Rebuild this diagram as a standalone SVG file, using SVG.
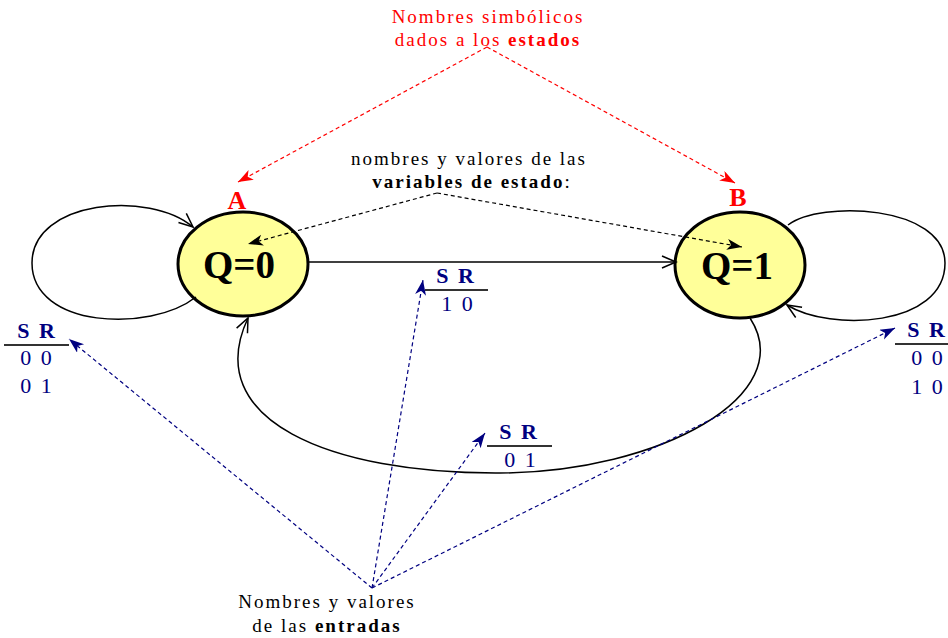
<svg xmlns="http://www.w3.org/2000/svg" width="948" height="638" viewBox="0 0 948 638">
<style>
.state{fill:#FFFF99;stroke:#000;stroke-width:3}
.qt{font-family:"Liberation Serif","Times New Roman",serif;font-weight:bold;font-size:39px;fill:#000;text-anchor:middle}
.nm{font-family:"Liberation Serif","Times New Roman",serif;font-weight:bold;font-size:26px;fill:#FF0000;text-anchor:middle}
.edge{fill:none;stroke:#000;stroke-width:1.5}
.lbl{font-family:"Liberation Serif","Times New Roman",serif;font-size:22px;fill:#000080;text-anchor:middle;letter-spacing:2px}
.lblb{font-weight:bold}
.bar{stroke:#333;stroke-width:2}
.note{font-family:"Liberation Serif","Times New Roman",serif;font-size:19px;text-anchor:middle;letter-spacing:2px}
.red{fill:#FF0000}
.blk{fill:#000}
.dred{fill:none;stroke:#FF0000;stroke-width:1.2;stroke-dasharray:4 3}
.dblk{fill:none;stroke:#000;stroke-width:1.2;stroke-dasharray:4 3}
.dblu{fill:none;stroke:#000080;stroke-width:1.2;stroke-dasharray:4 3}
</style>
<defs>
<marker id="open" markerUnits="userSpaceOnUse" markerWidth="18" markerHeight="16" refX="15" refY="7" orient="auto">
<path d="M1,1 L15,7 L1,13" fill="none" stroke="#000" stroke-width="1.5"/>
</marker>
<marker id="ar" markerUnits="userSpaceOnUse" markerWidth="16" markerHeight="12" refX="15" refY="5.5" orient="auto">
<path d="M0,0 L15,5.5 L0,11 L4,5.5 z" fill="#FF0000"/>
</marker>
<marker id="ak" markerUnits="userSpaceOnUse" markerWidth="16" markerHeight="12" refX="15" refY="5.5" orient="auto">
<path d="M0,0 L15,5.5 L0,11 L4,5.5 z" fill="#000"/>
</marker>
<marker id="ab" markerUnits="userSpaceOnUse" markerWidth="16" markerHeight="12" refX="15" refY="5.5" orient="auto">
<path d="M0,0 L15,5.5 L0,11 L4,5.5 z" fill="#000080"/>
</marker>
</defs>

<g id="stateA">
<ellipse class="state" cx="243" cy="264" rx="65" ry="52"/>
<text class="qt" x="239" y="278">Q=0</text>
<text class="nm" x="237" y="209">A</text>
</g>

<g id="stateB">
<ellipse class="state" cx="740" cy="265" rx="65" ry="53"/>
<text class="qt" x="737" y="279">Q=1</text>
<text class="nm" x="738" y="206">B</text>
</g>

<g id="connectors">
<path class="edge" d="M196,297 C150,333 32,328 32,263 C32,200 150,190 193,227" marker-end="url(#open)"/>
<path class="edge" d="M788,225 C820,200 945,205 945,263 C945,327 830,332 787,305" marker-end="url(#open)"/>
<path class="edge" d="M308,262 L676,262" marker-end="url(#open)"/>
<path class="edge" d="M750,318 C800,395 660,472 500,473 C330,474 200,420 248,318" marker-end="url(#open)"/>
<path class="dred" d="M487,47 L238,182" marker-end="url(#ar)"/>
<path class="dred" d="M487,47 L735,183" marker-end="url(#ar)"/>
<path class="dblk" d="M437,193 L248,244" marker-end="url(#ak)"/>
<path class="dblk" d="M437,193 L742,247" marker-end="url(#ak)"/>
<path class="dblu" d="M372,588 L69,339" marker-end="url(#ab)"/>
<path class="dblu" d="M372,588 L423,280" marker-end="url(#ab)"/>
<path class="dblu" d="M372,588 L485,433" marker-end="url(#ab)"/>
<path class="dblu" d="M372,588 L895,328" marker-end="url(#ab)"/>
</g>

<g id="label-AB">
<text class="lbl lblb" x="456" y="283">S R</text>
<line class="bar" x1="425" y1="290" x2="488" y2="290"/>
<text class="lbl" x="458" y="311">1 0</text>
</g>

<g id="label-BA">
<text class="lbl lblb" x="519" y="439">S R</text>
<line class="bar" x1="487" y1="446" x2="552" y2="446"/>
<text class="lbl" x="521" y="467">0 1</text>
</g>

<g id="label-AA">
<text class="lbl lblb" x="37" y="338">S R</text>
<line class="bar" x1="4" y1="345" x2="69" y2="345"/>
<text class="lbl" x="37" y="365">0 0</text>
<text class="lbl" x="37" y="393">0 1</text>
</g>

<g id="label-BB">
<text class="lbl lblb" x="927" y="337">S R</text>
<line class="bar" x1="895" y1="344" x2="948" y2="344"/>
<text class="lbl" x="928" y="365">0 0</text>
<text class="lbl" x="928" y="394">1 0</text>
</g>

<g id="note-estados">
<text class="note red" x="488" y="23">Nombres simbólicos</text>
<text class="note red" x="488" y="46">dados a los <tspan font-weight="bold">estados</tspan></text>
</g>

<g id="note-variables">
<text class="note blk" x="469" y="165">nombres y valores de las</text>
<text class="note blk" x="472" y="188"><tspan font-weight="bold">variables de estado</tspan>:</text>
</g>

<g id="note-entradas">
<text class="note blk" x="327" y="608">Nombres y valores</text>
<text class="note blk" x="327" y="632">de las <tspan font-weight="bold">entradas</tspan></text>
</g>
</svg>
